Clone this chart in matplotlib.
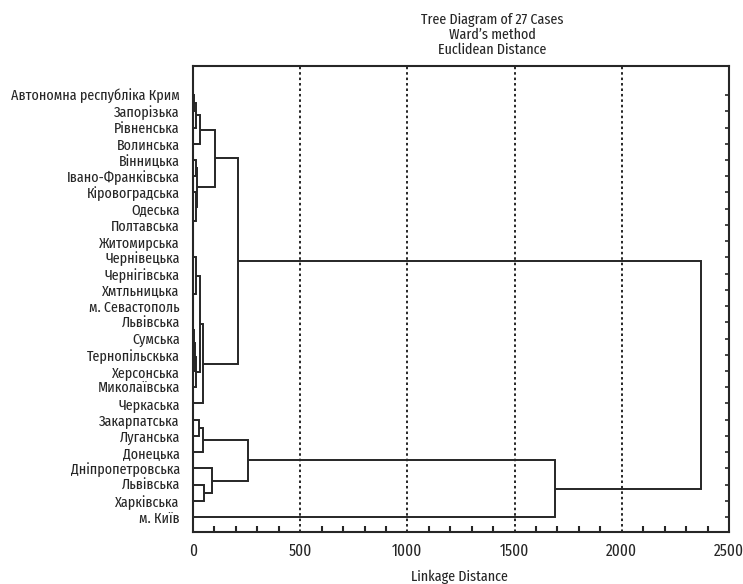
import matplotlib
matplotlib.use("Agg")
import matplotlib.pyplot as plt
from matplotlib.ticker import MultipleLocator

plt.rcParams['font.family'] = ['Fira Sans Extra Condensed', 'DejaVu Sans']

# Leaf labels, top to bottom
labels = [
    "Автономна республіка Крим", "Запорізька", "Рівненська", "Волинська",
    "Вінницька", "Івано-Франківська", "Кіровоградська", "Одеська",
    "Полтавська", "Житомирська", "Чернівецька", "Чернігівська",
    "Хмтльницька", "м. Севастополь", "Львівська", "Сумська",
    "Тернопільскька", "Херсонська", "Миколаївська", "Черкаська",
    "Закарпатська", "Луганська", "Донецька", "Дніпропетровська",
    "Львівська", "Харківська", "м. Київ",
]

# Agglomeration steps: (left, right, linkage distance).
# Indices < 27 are leaves, index 27 + k is the cluster formed at step k.
merge_left = [0, 27, 28, 4, 8, 7, 6, 30, 29,
              11, 36, 10, 14, 39, 40, 41, 38, 43,
              35, 20, 46, 24, 23, 47, 50, 45]
merge_right = [1, 2, 3, 5, 9, 31, 32, 33, 34,
               12, 13, 37, 15, 16, 17, 18, 42, 19,
               44, 21, 22, 25, 48, 49, 26, 51]
merge_dist = [3, 14, 33, 13, 0.5, 1, 14, 20, 103,
              1, 2, 13, 2, 6, 8, 13, 33, 45,
              211, 28, 45, 50, 90, 255, 1690, 2370]

title_lines = ["Tree Diagram of 27 Cases", "Ward\u2019s method", "Euclidean Distance"]
x_label = "Linkage Distance"

n = len(labels)
ypos = {i: float(i) for i in range(n)}
height = {i: 0.0 for i in range(n)}

W, H = 743, 584
ink = '#262626'
fig = plt.figure(figsize=(W / 100, H / 100), dpi=100)
ax = fig.add_axes([193 / W, 52 / H, 536 / W, 466 / H])

line_kw = dict(color=ink, lw=1.4, solid_capstyle='butt', solid_joinstyle='miter')
for k, (a, b, d) in enumerate(zip(merge_left, merge_right, merge_dist)):
    node = n + k
    ya, yb = ypos[a], ypos[b]
    ax.plot([height[a], d, d, height[b]], [ya, ya, yb, yb], **line_kw)
    ypos[node] = (ya + yb) / 2
    height[node] = d

ax.set_xlim(0, 2500)
ax.set_ylim(n - 1 + 0.92, -1.79)

ax.xaxis.set_major_locator(MultipleLocator(500))
ax.xaxis.set_minor_locator(MultipleLocator(100))
ax.set_yticks(range(n))
ax.set_yticklabels(labels)
ax.tick_params(axis='y', which='major', direction='in', length=3, width=1.2,
               left=False, right=True, labelsize=11, pad=9.5, colors=ink)
ax.tick_params(axis='x', which='major', direction='in', length=0, labelsize=12, pad=8,
               colors=ink)
ax.tick_params(axis='x', which='minor', direction='in', length=4, width=1.5, colors=ink)

for gx in [500, 1000, 1500, 2000]:
    ax.axvline(gx, color=ink, lw=1.4, ls=(0, (1.3, 1.5)), zorder=0)

for s in ax.spines.values():
    s.set_linewidth(1.5)
    s.set_color(ink)

fig.text(459 / W, 1 - 577 / H, x_label, ha='center', va='center', fontsize=11, color=ink)
for i, line in enumerate(title_lines):
    fig.text(492 / W, 1 - (20 + 15 * i) / H, line, ha='center', va='center',
             fontsize=11, color=ink)

fig.savefig("out.png", dpi=100)
